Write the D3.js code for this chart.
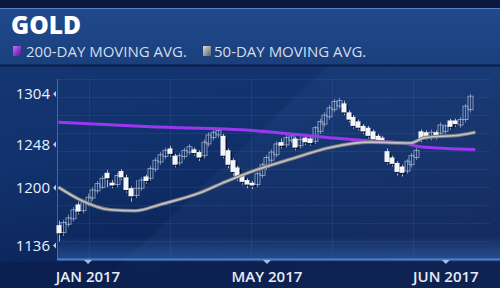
<!DOCTYPE html>
<meta charset="utf-8">
<head>
<style>
body { margin: 0; background: #0b2256; }
svg { display: block; }
.ylab { font: 15px "Open Sans", sans-serif; fill: #eef2fa; }
.xlab { font: 600 15px "Open Sans", sans-serif; fill: #e6ecf6; }
.legend { font: 15px "Open Sans", sans-serif; fill: #d3ddee; }
.title { font: 800 24.5px "Open Sans", sans-serif; fill: #ffffff; }
</style>
<script src="https://d3js.org/d3.v7.min.js"></script>
</head>
<body>
<svg width="500" height="288"></svg>
<script>

// daily candles (left to right)
var candleOpen  = [1158,1150,1159,1165,1181,1174,1181,1188,1196,1200,1216,1205,1203,1218,1211,1199,1191,1199,1212,1210,
                   1220,1228,1234,1243,1235,1227,1234,1239,1242,1239,1235,1248,1255,1258,1257,1241,1230,1222,1213,1208,
                   1205,1203,1213,1222,1230,1236,1250,1247,1252,1254,1246,1255,1254,1251,1262,1270,1278,1286,1290,1293,
                   1283,1278,1273,1268,1266,1262,1257,1255,1240,1233,1227,1223,1218,1225,1233,1262,1261,1255,1261,1260,
                   1262,1274,1274,1269,1275,1286];
var candleClose = [1149,1161,1166,1175,1173,1183,1189,1197,1204,1210,1210,1202,1213,1211,1197,1190,1199,1208,1207,1221,
                   1230,1236,1241,1237,1225,1235,1241,1245,1238,1233,1250,1258,1261,1263,1235,1225,1217,1210,1206,1203,
                   1202,1215,1225,1233,1239,1248,1246,1255,1257,1244,1253,1250,1249,1266,1273,1280,1288,1295,1296,1283,
                   1275,1268,1266,1262,1257,1253,1251,1251,1228,1226,1217,1216,1229,1235,1241,1253,1256,1261,1256,1269,
                   1268,1267,1270,1275,1290,1301];
var candleHigh  = [1163,1164,1170,1178,1184,1186,1193,1200,1207,1213,1219,1208,1216,1220,1214,1201,1208,1211,1214,1224,
                   1233,1239,1244,1246,1237,1238,1244,1248,1244,1241,1253,1261,1266,1265,1259,1243,1232,1224,1215,1210,
                   1207,1217,1227,1236,1242,1251,1254,1258,1260,1256,1256,1258,1256,1268,1276,1283,1291,1298,1299,1296,
                   1285,1280,1275,1270,1268,1264,1259,1257,1243,1235,1229,1225,1231,1238,1244,1264,1263,1264,1263,1272,
                   1270,1276,1276,1278,1292,1303];
var candleLow   = [1140,1146,1156,1162,1170,1171,1179,1185,1193,1198,1200,1199,1200,1208,1194,1184,1188,1196,1204,1207,
                   1217,1225,1231,1234,1222,1224,1231,1236,1235,1229,1232,1245,1252,1255,1232,1221,1213,1207,1203,1199,
                   1198,1200,1210,1219,1227,1233,1243,1244,1249,1241,1243,1247,1246,1248,1259,1267,1275,1283,1287,1280,
                   1272,1265,1263,1259,1254,1250,1248,1248,1225,1223,1213,1212,1215,1222,1230,1250,1253,1252,1253,1257,
                   1259,1264,1267,1266,1272,1283];

// moving averages: [candle index, value]
var ma200 = [[0,1272],[19,1267],[40,1263],[56,1255],[65.5,1251],[70.7,1249.5],[74.8,1245],[86.2,1242]];
var ma50  = [[0,1200],[4.5,1186],[10.7,1175],[15.9,1174],[21.1,1181],[29.3,1194],[34.5,1206],[39.7,1217],
             [47.9,1231],[56.2,1244],[64.5,1250],[72.7,1249],[75.8,1255],[83.1,1258],[86.2,1261]];

var yTicks = [1136, 1200, 1248, 1304];
var xTickIdx = [6, 43, 80];
var xTickLabels = ["JAN 2017", "MAY 2017", "JUN 2017"];

var svg = d3.select("svg"),
    width = +svg.attr("width"),
    height = +svg.attr("height");

var plotLeft = 57, plotBottom = 259, plotTop = 79, plotRight = 490;

var x = d3.scaleLinear().domain([0, candleOpen.length - 1]).range([58.5, 469.5]);
var y = d3.scaleLinear().domain([1120.5, 1320]).range([plotBottom, plotTop]);

var defs = svg.append("defs");

var bg = defs.append("linearGradient").attr("id", "bg")
    .attr("x1", 0).attr("y1", 0).attr("x2", 0.35).attr("y2", 1);
bg.append("stop").attr("offset", "0%").attr("stop-color", "#153874");
bg.append("stop").attr("offset", "55%").attr("stop-color", "#11316c");
bg.append("stop").attr("offset", "100%").attr("stop-color", "#0a2052");

var sheen = defs.append("linearGradient").attr("id", "sheen")
    .attr("x1", 0).attr("y1", 0).attr("x2", 1).attr("y2", 0.6);
sheen.append("stop").attr("offset", "0%").attr("stop-color", "#ffffff").attr("stop-opacity", 0);
sheen.append("stop").attr("offset", "58%").attr("stop-color", "#ffffff").attr("stop-opacity", 0);
sheen.append("stop").attr("offset", "59%").attr("stop-color", "#6f9ee0").attr("stop-opacity", 0.06);
sheen.append("stop").attr("offset", "100%").attr("stop-color", "#6f9ee0").attr("stop-opacity", 0.1);

var head = defs.append("linearGradient").attr("id", "head")
    .attr("x1", 0).attr("y1", 0).attr("x2", 0).attr("y2", 1);
head.append("stop").attr("offset", "0%").attr("stop-color", "#214a8c");
head.append("stop").attr("offset", "100%").attr("stop-color", "#1a3f7c");

var glow = defs.append("linearGradient").attr("id", "glow")
    .attr("x1", 0).attr("y1", 0).attr("x2", 0).attr("y2", 1);
glow.append("stop").attr("offset", "0%").attr("stop-color", "#3d74c4").attr("stop-opacity", 0);
glow.append("stop").attr("offset", "100%").attr("stop-color", "#3d74c4").attr("stop-opacity", 0.45);

var purp = defs.append("linearGradient").attr("id", "purp")
    .attr("x1", 0).attr("y1", 0).attr("x2", 1).attr("y2", 1);
purp.append("stop").attr("offset", "0%").attr("stop-color", "#c070ff");
purp.append("stop").attr("offset", "100%").attr("stop-color", "#5a1490");

var grey = defs.append("linearGradient").attr("id", "grey")
    .attr("x1", 0).attr("y1", 0).attr("x2", 1).attr("y2", 1);
grey.append("stop").attr("offset", "0%").attr("stop-color", "#e0e0e0");
grey.append("stop").attr("offset", "100%").attr("stop-color", "#5c5c5c");

// background
svg.append("rect").attr("width", width).attr("height", height).attr("fill", "url(#bg)");
svg.append("rect").attr("width", width).attr("height", height).attr("fill", "url(#sheen)");
svg.append("rect").attr("y", 262).attr("width", width).attr("height", 26).attr("fill", "#0a1c48").attr("opacity", 0.6);

// header
svg.append("rect").attr("width", width).attr("height", 8).attr("fill", "#0a1a3e");
svg.append("rect").attr("y", 8).attr("width", width).attr("height", 57).attr("fill", "url(#head)");
svg.append("line").attr("x1", 0).attr("x2", width).attr("y1", 8.5).attr("y2", 8.5)
    .attr("stroke", "#6e9ad6").attr("stroke-opacity", 0.7);
svg.append("line").attr("x1", 0).attr("x2", width).attr("y1", 65.5).attr("y2", 65.5)
    .attr("stroke", "#0a1d46").attr("stroke-width", 2);

svg.append("text").attr("class", "title").attr("x", 11).attr("y", 33.5).text("GOLD");

svg.append("rect").attr("x", 13).attr("y", 46).attr("width", 8).attr("height", 10).attr("fill", "url(#purp)");
svg.append("text").attr("class", "legend").attr("x", 26).attr("y", 57).text("200-DAY MOVING AVG.");
svg.append("rect").attr("x", 203).attr("y", 46).attr("width", 8).attr("height", 10).attr("fill", "url(#grey)");
svg.append("text").attr("class", "legend").attr("x", 214).attr("y", 57).text("50-DAY MOVING AVG.");

// grid
var grid = svg.append("g").attr("stroke", "#7fa8e6").attr("stroke-opacity", 0.1);
grid.selectAll(".hg").data(y.ticks(10)).enter().append("line")
    .attr("x1", plotLeft).attr("x2", plotRight)
    .attr("y1", function(d) { return Math.round(y(d)) + 0.5; })
    .attr("y2", function(d) { return Math.round(y(d)) + 0.5; });
grid.selectAll(".vg").data(d3.range(89, plotRight, 81)).enter().append("line")
    .attr("x1", function(d) { return d + 0.5; }).attr("x2", function(d) { return d + 0.5; })
    .attr("y1", plotTop).attr("y2", plotBottom);

svg.append("rect").attr("x", plotLeft).attr("y", 236).attr("width", plotRight - plotLeft + 10)
    .attr("height", plotBottom - 236).attr("fill", "url(#glow)");

// axes lines
svg.append("line").attr("x1", plotLeft + 0.5).attr("x2", plotLeft + 0.5)
    .attr("y1", plotTop).attr("y2", plotBottom)
    .attr("stroke", "#6d93cf").attr("stroke-opacity", 0.55);
svg.append("line").attr("x1", plotLeft).attr("x2", plotRight + 10)
    .attr("y1", plotBottom + 0.5).attr("y2", plotBottom + 0.5)
    .attr("stroke", "#4a82d0").attr("stroke-width", 2);

// y axis
var yAxis = svg.append("g")
    .attr("transform", "translate(50,0)")
    .call(d3.axisLeft(y).tickValues(yTicks).tickSize(0).tickPadding(0).tickFormat(d3.format("d")));
yAxis.select(".domain").remove();
yAxis.selectAll("text").attr("class", "ylab").attr("dy", "0.36em");
yAxis.selectAll(".tick").append("path")
    .attr("d", "M3,0 L6,-3 L6,3 Z").attr("fill", "#b8cbe8");

// x axis
var xAxis = svg.append("g")
    .attr("transform", "translate(0," + (plotBottom + 1) + ")")
    .call(d3.axisBottom(x).tickValues(xTickIdx).tickSize(0).tickPadding(8)
      .tickFormat(function(d, i) { return xTickLabels[i]; }));
xAxis.select(".domain").remove();
xAxis.selectAll("text").attr("class", "xlab").attr("dy", "0.95em");
xAxis.selectAll(".tick").append("path")
    .attr("d", "M-4,0 L4,0 L0,4 Z").attr("fill", "#9fc0ee");

// candles
var bw = 5;
var candles = candleOpen.map(function(o, i) {
  return { i: i, o: o, c: candleClose[i], h: candleHigh[i], l: candleLow[i] };
});

var cg = svg.append("g");

cg.selectAll(".wick").data(candles).enter().append("line")
    .attr("x1", function(d) { return Math.round(x(d.i)) + 0.5; })
    .attr("x2", function(d) { return Math.round(x(d.i)) + 0.5; })
    .attr("y1", function(d) { return y(d.h); })
    .attr("y2", function(d) { return y(d.l); })
    .attr("stroke", function(d) { return d.c >= d.o ? "#8fa2c4" : "#d8dde6"; })
    .attr("stroke-width", 0.8);

var down = candles.filter(function(d) { return d.c < d.o; });
var up = candles.filter(function(d) { return d.c >= d.o; });

cg.selectAll(".shadow").data(down).enter().append("rect")
    .attr("x", function(d) { return Math.round(x(d.i)) - bw / 2 + 1.5; })
    .attr("y", function(d) { return y(d.o) + 1.5; })
    .attr("width", bw)
    .attr("height", function(d) { return Math.max(2, y(d.c) - y(d.o)); })
    .attr("fill", "#02081c").attr("opacity", 0.7);

cg.selectAll(".up").data(up).enter().append("rect")
    .attr("x", function(d) { return Math.round(x(d.i)) - 2; })
    .attr("y", function(d) { return y(d.c); })
    .attr("width", 5)
    .attr("height", function(d) { return Math.max(1, y(d.o) - y(d.c)); })
    .attr("fill", "none")
    .attr("stroke", "#9fb0cd").attr("stroke-width", 0.8);

cg.selectAll(".down").data(down).enter().append("rect")
    .attr("x", function(d) { return Math.round(x(d.i)) - bw / 2; })
    .attr("y", function(d) { return y(d.o); })
    .attr("width", bw)
    .attr("height", function(d) { return Math.max(2.5, y(d.c) - y(d.o)); })
    .attr("fill", "#f4f5f8");

// moving averages
var line = d3.line()
    .x(function(d) { return x(d[0]); })
    .y(function(d) { return y(d[1]); })
    .curve(d3.curveMonotoneX);

svg.append("path").datum(ma200).attr("d", line)
    .attr("fill", "none").attr("stroke", "#9a38f0").attr("stroke-width", 3);

svg.append("path").datum(ma50).attr("d", line)
    .attr("fill", "none").attr("stroke", "#7c7c80").attr("stroke-width", 3.6);
svg.append("path").datum(ma50).attr("d", line)
    .attr("fill", "none").attr("stroke", "#c4c4c6").attr("stroke-width", 1.6);

</script>
</body>
